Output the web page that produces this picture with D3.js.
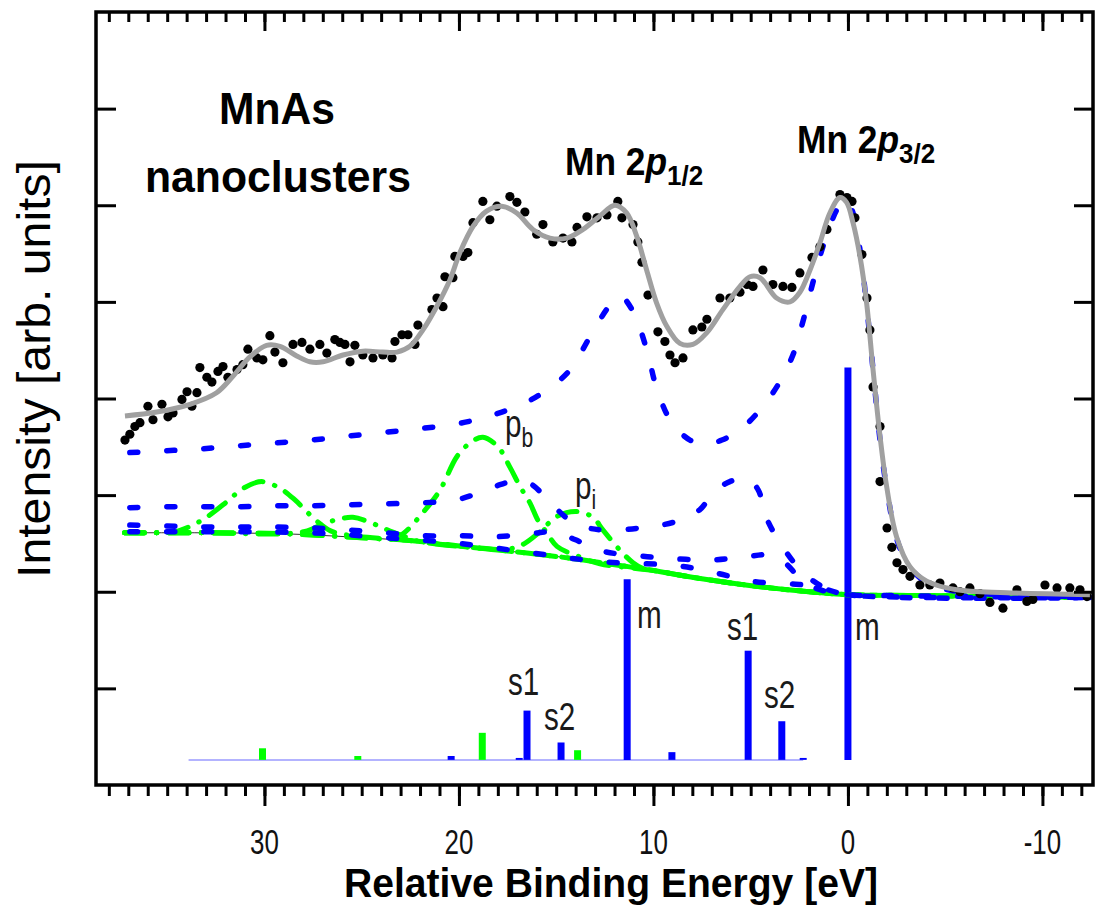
<!DOCTYPE html>
<html>
<head>
<meta charset="utf-8">
<script src="https://cdn.jsdelivr.net/npm/d3@7"></script>
<style>
  body { margin: 0; background: #fff; }
  svg { display: block; }
  text { font-family: "Liberation Sans", Arial, sans-serif; }
</style>
</head>
<body>
<svg id="chart" width="1120" height="911"></svg>
<script>
// energies in eV (relative binding energy), intensities in arb. units
const majorTicks = [30, 20, 10, 0, -10];
const yTicks = [-1, 0, 1, 2, 3, 4, 5];

const measured = [
  [37.17,1.57],[36.92,1.63],[36.66,1.71],[36.40,1.75],[35.99,1.92],[35.73,1.78],[35.27,1.94],[34.96,1.81],
  [34.70,1.85],[34.24,1.99],[33.98,2.07],[33.73,1.92],[33.47,2.06],[33.32,2.32],[32.96,2.22],[32.70,2.17],
  [32.39,2.28],[32.13,2.33],[31.88,2.22],[31.41,2.30],[31.11,2.35],[30.85,2.51],[30.39,2.42],[30.08,2.40],
  [29.72,2.65],[29.46,2.48],[29.05,2.37],[28.53,2.56],[28.07,2.58],[27.66,2.51],[27.15,2.56],[26.79,2.47],
  [26.38,2.61],[26.12,2.58],[25.86,2.56],[25.60,2.38],[25.35,2.55],[24.94,2.45],[24.42,2.42],[23.91,2.45],
  [23.44,2.42],[23.29,2.59],[22.93,2.66],[22.62,2.66],[22.26,2.56],[22.11,2.76],[21.39,2.92],[21.13,3.04],
  [20.82,2.95],[20.72,3.26],[20.31,3.25],[20.21,3.47],[19.79,3.47],[19.54,3.51],[19.28,3.82],[18.77,4.04],
  [18.41,3.85],[18.05,3.99],[17.38,4.09],[17.02,4.03],[16.61,3.93],[16.00,3.70],[15.68,3.80],[15.17,3.62],
  [14.65,3.66],[14.19,3.62],[13.93,3.77],[13.42,3.88],[12.90,3.87],[12.39,3.90],[11.83,4.04],[11.62,3.87],
  [11.05,3.80],[10.80,3.62],[10.59,3.41],[10.28,3.07],[9.77,2.69],[9.41,2.59],[9.15,2.45],[8.89,2.37],
  [8.48,2.42],[7.97,2.71],[7.51,2.74],[7.25,2.82],[6.58,3.04],[6.07,3.04],[5.55,3.10],[5.19,3.18],
  [4.88,3.16],[4.37,3.33],[3.86,3.18],[3.34,3.16],[2.88,3.15],[2.47,3.30],[1.85,3.46],[1.44,3.57],
  [1.08,3.75],[0.41,4.11],[0.05,4.08],[-0.21,4.04],[-0.36,3.87],[-0.72,3.49],[-0.98,3.04],[-1.13,2.71],
  [-1.29,2.12],[-1.65,1.71],[-1.65,1.14],[-2.01,0.66],[-2.26,0.46],[-2.52,0.30],[-2.83,0.23],[-3.19,0.16],
  [-3.70,0.07],[-4.21,0.07],[-4.73,0.09],[-5.40,0.04],[-5.76,0.00],[-6.27,0.04],[-6.79,-0.02],[-7.30,-0.11],
  [-7.97,-0.17],[-8.69,0.02],[-9.20,-0.10],[-9.51,-0.08],[-10.13,0.07],[-10.75,0.04],[-11.41,0.04],
  [-11.93,0.02],[-12.29,-0.05]
];

const fitCurve = [
  [37.17,1.82],[35.54,1.86],[33.83,1.94],[32.46,2.06],[31.62,2.23],[30.75,2.43],[29.89,2.55],[29.2,2.54],
  [28.34,2.44],[27.66,2.38],[26.99,2.38],[25.96,2.45],[24.94,2.49],[23.91,2.48],[23.19,2.48],[22.52,2.54],
  [21.85,2.71],[21.15,2.95],[20.46,3.23],[19.95,3.51],[19.28,3.78],[18.58,3.94],[17.8,3.99],[17.03,3.92],
  [16.2,3.75],[15.32,3.66],[14.46,3.66],[13.62,3.75],[12.75,3.89],[11.98,4.0],[11.38,3.92],[10.86,3.68],
  [10.35,3.33],[9.84,2.99],[9.32,2.75],[8.64,2.57],[7.97,2.56],[7.26,2.68],[6.43,2.92],[5.55,3.16],
  [5.04,3.26],[4.52,3.25],[3.67,3.04],[2.98,3.0],[2.47,3.1],[1.95,3.33],[1.44,3.61],[0.93,3.92],
  [0.41,4.08],[0.07,4.03],[-0.26,3.82],[-0.62,3.47],[-0.96,2.99],[-1.29,2.30],[-1.65,1.61],[-1.99,1.09],
  [-2.5,0.57],[-3.19,0.26],[-4.05,0.11],[-5.59,0.02],[-8.16,-0.01],[-12.44,-0.03]
];

const background = [
  [37.2,0.61],[33,0.61],[29,0.60],[25,0.56],[22,0.52],[19.4,0.46],[16.5,0.40],[14,0.34],[12,0.28],
  [10,0.22],[8,0.15],[6,0.09],[4,0.04],[2,0.0],[0,-0.03],[-4,-0.04],[-12.4,-0.06]
];

// blue dashed: main lines (m) and satellites (s1, s2) of both spin-orbit components
const blueM = [
  [36.92,1.44],[35.03,1.46],[33.16,1.48],[31.36,1.51],[29.46,1.54],[27.57,1.57],[25.77,1.61],[23.8,1.65],
  [21.92,1.69],[20.05,1.74],[18.25,1.83],[16.26,1.99],[14.4,2.27],[13.26,2.64],[12.3,2.95],[11.72,3.06],
  [11.1,2.92],[10.35,2.51],[9.84,2.11],[9.06,1.75],[8.12,1.57],[7.35,1.53],[6.48,1.57],[5.4,1.70],
  [3.92,2.04],[2.89,2.42],[2.31,2.80],[1.8,3.2],[1.29,3.57],[0.58,3.95],[0.15,4.06],[-0.21,3.95],
  [-0.62,3.54],[-0.93,3.02],[-1.29,2.30],[-1.65,1.57],[-2.0,1.06],[-2.52,0.54],[-3.19,0.25],[-4.2,0.08],
  [-5.76,0.0],[-12.44,-0.05]
];
const blueS1 = [
  [36.92,0.87],[35.01,0.88],[33.16,0.88],[31.26,0.88],[29.36,0.89],[27.56,0.89],[25.71,0.90],[23.8,0.91],
  [21.9,0.92],[19.95,0.96],[18.15,1.09],[17.28,1.14],[16.35,1.12],[15.42,0.95],[14.5,0.77],[13.52,0.67],
  [12.6,0.64],[10.69,0.66],[8.79,0.73],[7.61,0.85],[6.94,1.02],[6.07,1.14],[5.19,1.17],[4.63,1.06],
  [4.16,0.75],[3.14,0.40],[2.21,0.18],[1.18,0.04],[0,-0.03],[-2.67,-0.04],[-12.44,-0.06]
];
const blueS2 = [
  [36.92,0.69],[35.01,0.68],[33.16,0.67],[31.26,0.67],[29.36,0.67],[27.56,0.66],[25.71,0.64],[23.8,0.61],
  [21.9,0.58],[19.95,0.58],[18.15,0.57],[16.35,0.60],[15.06,0.62],[14.04,0.54],[12.6,0.42],[10.69,0.37],
  [8.79,0.34],[6.94,0.33],[5.3,0.36],[4.01,0.38],[3.24,0.30],[2.47,0.14],[1.7,0.04],[0,-0.03],[-12.44,-0.06]
];
const blueTail = [
  [36.92,0.62],[27.6,0.61],[23.8,0.56],[20.0,0.50],[16.2,0.40],[12.6,0.31],[8.8,0.27],[6.9,0.20],
  [5.0,0.11],[2.9,0.08],[1.7,0.06],[0,-0.03],[-12.44,-0.06]
];

// green dash-dot: plasmon losses
const green30 = [
  [37.2,0.61],[35.5,0.61],[34.6,0.62],[33.9,0.67],[33.06,0.76],[31.94,0.93],[31.1,1.07],[30.14,1.14],
  [29.2,1.07],[28.43,0.95],[27.83,0.83],[27.3,0.73],[26.6,0.63],[25.5,0.58],[22,0.52],[19.4,0.46],
  [16.5,0.40],[14,0.34],[12,0.28],[10,0.22],[8,0.15],[6,0.09],[4,0.04],[2,0.0],[0,-0.03],[-4,-0.04],[-12.4,-0.06]
];
const green26 = [
  [37.2,0.61],[33,0.61],[29,0.60],[27.8,0.63],[27,0.70],[26.2,0.75],[25.45,0.77],[24.58,0.72],[23.91,0.66],
  [23.29,0.61],[22.5,0.55],[22,0.52],[19.4,0.46],[16.5,0.40],[14,0.34],[12,0.28],[10,0.22],[8,0.15],
  [6,0.09],[4,0.04],[2,0.0],[0,-0.03],[-4,-0.04],[-12.4,-0.06]
];
const greenPb = [
  [37.2,0.61],[33,0.61],[29,0.60],[25,0.56],[23.5,0.55],[22.88,0.60],[21.85,0.82],[20.98,1.05],[20.1,1.40],
  [19.43,1.54],[18.77,1.60],[17.99,1.50],[17.38,1.29],[16.86,1.09],[16.35,0.92],[15.94,0.74],[15.48,0.61],
  [14.96,0.47],[13.78,0.36],[12.75,0.29],[10,0.22],[8,0.15],[6,0.09],[4,0.04],[2,0.0],[0,-0.03],
  [-4,-0.04],[-12.4,-0.06]
];
const greenPi = [
  [37.2,0.61],[33,0.61],[29,0.60],[25,0.56],[22,0.52],[20.98,0.49],[19.28,0.46],[17.53,0.44],[16.71,0.49],
  [15.84,0.62],[14.96,0.78],[13.93,0.83],[13.11,0.77],[12.6,0.64],[11.72,0.43],[11.05,0.30],[10.54,0.24],
  [10,0.22],[8,0.15],[6,0.09],[4,0.04],[2,0.0],[0,-0.03],[-4,-0.04],[-12.4,-0.06]
];

// stick spectra [energy, height above stick base]
const stickBase = -1.74;
const stickSpan = [33.9, 2.3];
const blueSticks = [
  [0,4.06],[11.35,1.87],[5.13,1.13],[3.4,0.40],[16.5,0.51],[14.75,0.18],[9.05,0.08],[20.4,0.04],[2.3,0.02],[16.9,0.02]
];
const greenSticks = [[30.1,0.12],[25.2,0.04],[18.8,0.28],[13.9,0.10]];

const svg = d3.select('#chart');
const frame = { left: 96, right: 1093, top: 12, bottom: 785 };

const x = d3.scaleLinear().domain([38.66, -12.6]).range([frame.left, frame.right]);
const y = d3.scaleLinear().domain([-2, 6]).range([frame.bottom, frame.top]);

svg.append('defs').append('clipPath').attr('id', 'plotclip')
  .append('rect')
  .attr('x', frame.left).attr('y', frame.top)
  .attr('width', frame.right - frame.left).attr('height', frame.bottom - frame.top);

const plot = svg.append('g').attr('clip-path', 'url(#plotclip)');

const line = d3.line()
  .x(d => x(d[0]))
  .y(d => y(d[1]))
  .curve(d3.curveCatmullRom.alpha(0.5));

// sticks
plot.append('line')
  .attr('x1', x(stickSpan[0])).attr('x2', x(stickSpan[1]))
  .attr('y1', y(stickBase)).attr('y2', y(stickBase))
  .attr('stroke', '#9a9aff').attr('stroke-width', 1.5);

plot.selectAll('.gstick').data(greenSticks).enter().append('line')
  .attr('x1', d => x(d[0])).attr('x2', d => x(d[0]))
  .attr('y1', y(stickBase)).attr('y2', d => y(stickBase + d[1]))
  .attr('stroke', '#00ff00').attr('stroke-width', 7);

plot.selectAll('.bstick').data(blueSticks).enter().append('line')
  .attr('x1', d => x(d[0])).attr('x2', d => x(d[0]))
  .attr('y1', y(stickBase)).attr('y2', d => y(stickBase + d[1]))
  .attr('stroke', '#0000ff').attr('stroke-width', 7);

// background
plot.append('path').datum(background)
  .attr('d', line).attr('fill', 'none')
  .attr('stroke', '#333').attr('stroke-width', 1);

[green30, green26, greenPb, greenPi].forEach(c => {
  plot.append('path').datum(c)
    .attr('d', line).attr('fill', 'none')
    .attr('stroke', '#00ff00').attr('stroke-width', 5)
    .attr('stroke-linecap', 'round')
    .attr('stroke-dasharray', '20 12 0.5 12');
});

[blueTail, blueS2, blueS1, blueM].forEach(c => {
  plot.append('path').datum(c)
    .attr('d', line).attr('fill', 'none')
    .attr('stroke', '#0000ff').attr('stroke-width', 5.5)
    .attr('stroke-linecap', 'round')
    .attr('stroke-dasharray', '8 29');
});

plot.selectAll('.dot').data(measured).enter().append('circle')
  .attr('cx', d => x(d[0])).attr('cy', d => y(d[1]))
  .attr('r', 4.6).attr('fill', '#000');

plot.append('path').datum(fitCurve)
  .attr('d', line).attr('fill', 'none')
  .attr('stroke', '#a0a0a0').attr('stroke-width', 5);

// axes and frame
const minor = d3.range(-12, 39, 1);
const tickStyle = g => {
  g.select('.domain').remove();
  g.selectAll('line').attr('stroke', '#000').attr('stroke-width', 3);
  g.selectAll('text').remove();
};

svg.append('g').attr('transform', `translate(0,${frame.bottom})`)
  .call(d3.axisBottom(x).tickValues(minor).tickSize(11)).call(tickStyle);
svg.append('g').attr('transform', `translate(0,${frame.bottom})`)
  .call(d3.axisBottom(x).tickValues(majorTicks).tickSize(21)).call(tickStyle);
svg.append('g').attr('transform', `translate(0,${frame.top})`)
  .call(d3.axisBottom(x).tickValues(minor).tickSize(10)).call(tickStyle);
svg.append('g').attr('transform', `translate(0,${frame.top})`)
  .call(d3.axisBottom(x).tickValues(majorTicks).tickSize(19)).call(tickStyle);
svg.append('g').attr('transform', `translate(${frame.left},0)`)
  .call(d3.axisRight(y).tickValues(yTicks).tickSize(20)).call(tickStyle);
svg.append('g').attr('transform', `translate(${frame.right},0)`)
  .call(d3.axisLeft(y).tickValues(yTicks).tickSize(19)).call(tickStyle);

svg.append('rect')
  .attr('x', frame.left).attr('y', frame.top)
  .attr('width', frame.right - frame.left).attr('height', frame.bottom - frame.top)
  .attr('fill', 'none').attr('stroke', '#000').attr('stroke-width', 3.5);

// tick labels (condensed)
svg.selectAll('.xlab').data(majorTicks).enter().append('text')
  .attr('transform', d => `translate(${x(d)},854) scale(0.72,1)`)
  .attr('text-anchor', 'middle')
  .attr('font-size', 36).attr('fill', '#111')
  .text(d => d);

svg.append('text')
  .attr('x', 611).attr('y', 897)
  .attr('text-anchor', 'middle')
  .attr('font-size', 40).attr('font-weight', 'bold')
  .attr('textLength', 534).attr('lengthAdjust', 'spacingAndGlyphs')
  .text('Relative Binding Energy [eV]');

svg.append('text')
  .attr('transform', 'translate(50,369) rotate(-90)')
  .attr('text-anchor', 'middle')
  .attr('font-size', 47)
  .attr('textLength', 418).attr('lengthAdjust', 'spacingAndGlyphs')
  .text('Intensity [arb. units]');

svg.append('text')
  .attr('x', 277).attr('y', 124).attr('text-anchor', 'middle')
  .attr('font-size', 44).attr('font-weight', 'bold')
  .attr('textLength', 116).attr('lengthAdjust', 'spacingAndGlyphs')
  .text('MnAs');
svg.append('text')
  .attr('x', 278).attr('y', 192).attr('text-anchor', 'middle')
  .attr('font-size', 45).attr('font-weight', 'bold')
  .attr('textLength', 266).attr('lengthAdjust', 'spacingAndGlyphs')
  .text('nanoclusters');

function peakTitle(x0, y0, sub) {
  const t = svg.append('text')
    .attr('transform', `translate(${x0},${y0}) scale(0.93,1)`)
    .attr('font-size', 38).attr('font-weight', 'bold');
  t.append('tspan').text('Mn 2');
  t.append('tspan').attr('font-style', 'italic').text('p');
  t.append('tspan').attr('font-size', 28).attr('dy', 10).text(sub);
}
peakTitle(565, 175, '1/2');
peakTitle(797, 153, '3/2');

function note(x0, y0, main, sub) {
  const t = svg.append('text')
    .attr('transform', `translate(${x0},${y0}) scale(0.78,1)`)
    .attr('font-size', 38).attr('fill', '#1a1a1a');
  t.append('tspan').text(main);
  if (sub) t.append('tspan').attr('font-size', 27).attr('dy', 10).text(sub);
}
note(505, 437, 'p', 'b');
note(575, 499, 'p', 'i');
note(637, 628, 'm');
note(855, 640, 'm');
note(508, 695, 's1');
note(544, 730, 's2');
note(727, 640, 's1');
note(764, 708, 's2');
</script>
</body>
</html>
